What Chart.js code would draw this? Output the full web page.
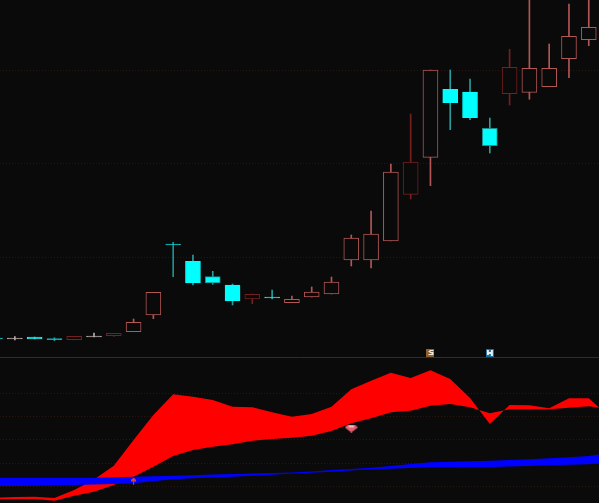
<!DOCTYPE html>
<html>
<head>
<meta charset="utf-8">
<script src="https://cdn.jsdelivr.net/npm/chart.js@4"></script>
<style>
  html, body { margin: 0; padding: 0; background: #0a0a0a; overflow: hidden; }
  canvas { display: block; }
</style>
</head>
<body>
<canvas id="kline" width="599" height="503"></canvas>
<script>
// candle values, one entry per session
const opens  = [1.9, 1.8, 2.0, 1.84, 1.73, 2.0, 2.13, 2.53, 4.2, 11.3, 9.57, 8.03, 7.2, 5.8, 6.0, 5.43, 6.0, 6.3, 9.7, 9.7, 11.6, 16.27, 19.97, 26.77, 26.5, 22.87, 26.33, 26.47, 27.03, 29.83, 31.73];
const closes = [1.8, 1.9, 1.8, 1.74, 2.07, 2.1, 2.37, 3.47, 6.47, 11.2, 7.4, 7.4, 5.6, 6.27, 5.9, 5.77, 6.5, 7.5, 11.9, 12.3, 18.5, 19.5, 28.7, 25.43, 23.93, 21.13, 28.97, 28.87, 28.87, 32.07, 32.97];
const highs  = [1.9, 2.03, 2.0, 1.93, 2.07, 2.4, 2.37, 3.8, 6.47, 11.47, 10.2, 8.57, 7.3, 6.3, 6.7, 6.1, 7.0, 8.0, 12.2, 14.6, 19.3, 24.3, 28.7, 28.7, 27.8, 23.9, 30.77, 36.7, 31.3, 35.3, 36.2];
const lows   = [1.8, 1.7, 1.8, 1.63, 1.71, 2.0, 2.07, 2.53, 3.83, 8.03, 7.2, 7.27, 5.2, 5.33, 5.8, 5.43, 6.0, 6.3, 9.1, 8.9, 11.6, 15.8, 17.13, 22.73, 23.73, 20.4, 25.2, 25.77, 27.03, 27.93, 31.13];

// lower pane, one more point than candles because the lines run off the right edge
const redUpper  = [-11.5, -11, -10.7, -11.9, -4, 6.5, 20.3, 46, 71, 91.7, 89.3, 86, 79.3, 78.7, 73.7, 69.3, 72, 79.3, 96.7, 105.3, 113.3, 108, 115.7, 107, 88, 62, 81, 80.7, 77.7, 87.7, 87.7, 70];
const redLower  = [-13, -13, -13, -14.7, -9.7, -5.7, 1, 9.3, 19.3, 30, 36, 39.3, 41.7, 45.3, 47, 48.3, 50.3, 55, 62.7, 67.7, 73.7, 75.3, 80.3, 82, 78.7, 72.7, 76.7, 76.7, 76.7, 78.3, 79.7, 77];
const blueUpper = [8.3, 8.3, 8.3, 8.3, 8.3, 8.3, 8.7, 9.3, 9.8, 10.3, 10.8, 11.4, 12, 12.5, 13, 13.6, 14.5, 16, 17, 18.3, 20, 22, 23.7, 24.2, 24.7, 25.3, 26, 26.7, 27.7, 28.8, 30, 33];
const blueLower = [0, 0, 0.3, 0.7, 1, 1.5, 2, 2.7, 4.7, 6.7, 7.7, 8.5, 9.3, 10.2, 11.2, 12.5, 13.3, 14.3, 15.5, 16.7, 17.3, 18, 18.7, 18.8, 18.9, 19, 19.4, 20, 20.7, 21.2, 21.8, 23];

// signal markers: session, level
const brownSignal = [22, 0.4];
const blueSignal  = [25, 0.4];
const gemSignal   = [18, 57.5];
const arrowSignal = [7, 5];

// dotted levels and the pane divider
const priceLevels = [10, 19.4, 28.7];
const oscLevels   = [0, 23, 47, 70, 93];
const dividerLevel = -0.05;

// candles that are painted in a different tone
const darkCandles = [4, 6, 13, 21, 26];
const paleCandles = [1, 5];
const dimCandles  = [0, 3, 9];
const edgedBodies = [11, 25];
const brightDoji  = [2, 14];

const BG = '#0a0a0a';

function toneOf(i) {
  if (paleCandles.includes(i)) return '#b8aaaa';
  if (darkCandles.includes(i)) return '#761f1f';
  if (dimCandles.includes(i)) return '#1f9090';
  return closes[i] >= opens[i] ? '#b25656' : '#2a9c9c';
}

function bodyEdge(i) {
  if (closes[i] >= opens[i] || paleCandles.includes(i)) return toneOf(i);
  if (edgedBodies.includes(i)) return '#178f8f';
  if (brightDoji.includes(i)) return '#2fe6e6';
  return dimCandles.includes(i) ? toneOf(i) : '#00ffff';
}

function bodyFill(i) {
  if (paleCandles.includes(i)) return '#b8aaaa';
  return closes[i] >= opens[i] ? BG : '#00ffff';
}

function iconCanvas(w, h, paint) {
  const c = document.createElement('canvas');
  c.width = w;
  c.height = h;
  paint(c.getContext('2d'));
  return c;
}

const brownIcon = iconCanvas(8, 8, g => {
  g.fillStyle = '#8f5f2c';
  g.fillRect(0, 0, 8, 8);
  g.fillStyle = '#f2e6d4';
  g.fillRect(3, 1, 4, 1);
  g.fillRect(2, 2, 2, 1);
  g.fillRect(3, 3, 4, 1);
  g.fillRect(2, 5, 5, 1);
  g.fillRect(5, 4, 2, 1);
});

const blueIcon = iconCanvas(8, 8, g => {
  g.fillStyle = '#1b6c9a';
  g.fillRect(0, 0, 8, 8);
  g.fillStyle = '#e4f0f6';
  g.fillRect(1, 1, 2, 5);
  g.fillRect(5, 1, 2, 6);
  g.fillRect(3, 3, 2, 2);
});

const gemIcon = iconCanvas(13, 8, g => {
  g.fillStyle = '#e45f72';
  g.beginPath();
  g.moveTo(3, 0);
  g.lineTo(10, 0);
  g.lineTo(13, 3);
  g.lineTo(6.5, 8);
  g.lineTo(0, 3);
  g.closePath();
  g.fill();
  g.fillStyle = '#f6b6bd';
  g.fillRect(4, 1, 5, 2);
});

const arrowIcon = iconCanvas(5, 7, g => {
  g.fillStyle = '#d8402c';
  g.fillRect(2, 0, 1, 7);
  g.fillRect(1, 1, 3, 2);
  g.fillRect(0, 2, 5, 2);
});

const candleX = opens.map((v, i) => i);

function pairs(values) {
  return values.map((v, i) => ({ x: i, y: v }));
}

function bandLine(values, color, fill, order) {
  return {
    type: 'line',
    data: pairs(values),
    yAxisID: 'osc',
    borderWidth: 0,
    pointRadius: 0,
    tension: 0,
    backgroundColor: color,
    fill: fill,
    order: order
  };
}

function signal(point, axis, icon) {
  return {
    type: 'line',
    data: [{ x: point[0], y: point[1] }],
    yAxisID: axis,
    showLine: false,
    pointStyle: icon,
    order: 1
  };
}

new Chart(document.getElementById('kline'), {
  type: 'bar',
  data: {
    datasets: [
      bandLine(redUpper, '#ff0000', '+1', 6),
      bandLine(redLower, '#ff0000', false, 6),
      bandLine(blueUpper, '#0000ff', '+1', 4),
      bandLine(blueLower, '#0000ff', false, 4),
      {
        // wicks
        data: candleX.map(i => ({ x: i, y: [lows[i], highs[i]] })),
        yAxisID: 'price',
        barThickness: 1,
        grouped: false,
        backgroundColor: candleX.map(toneOf),
        order: 3
      },
      {
        // bodies
        data: candleX.map(i => ({ x: i, y: [opens[i], closes[i]] })),
        yAxisID: 'price',
        barThickness: 15,
        grouped: false,
        borderSkipped: false,
        borderWidth: 1,
        borderColor: candleX.map(bodyEdge),
        backgroundColor: candleX.map(bodyFill),
        order: 2
      },
      {
        type: 'line',
        data: [{ x: -2, y: dividerLevel }, { x: 33, y: dividerLevel }],
        yAxisID: 'price',
        borderColor: '#5c1c16',
        borderWidth: 1,
        pointRadius: 0,
        order: 5
      },
      signal(brownSignal, 'price', brownIcon),
      signal(blueSignal, 'price', blueIcon),
      signal(gemSignal, 'osc', gemIcon),
      signal(arrowSignal, 'osc', arrowIcon)
    ]
  },
  options: {
    responsive: false,
    animation: false,
    layout: { padding: 0, autoPadding: false },
    plugins: { legend: { display: false }, tooltip: { enabled: false } },
    scales: {
      x: {
        type: 'linear',
        display: false,
        offset: false,
        min: 0.25,
        max: 30.517
      },
      price: {
        position: 'left',
        min: -14.6,
        max: 35.7,
        afterBuildTicks: scale => { scale.ticks = priceLevels.map(v => ({ value: v })); },
        ticks: { display: false },
        border: { display: false, dash: [1, 2] },
        grid: { color: '#2e1311', drawTicks: false }
      },
      osc: {
        position: 'left',
        min: -17,
        max: 486,
        afterBuildTicks: scale => { scale.ticks = oscLevels.map(v => ({ value: v })); },
        ticks: { display: false },
        border: { display: false, dash: [1, 2] },
        grid: { color: '#2e1311', drawTicks: false }
      }
    }
  }
});
</script>
</body>
</html>
